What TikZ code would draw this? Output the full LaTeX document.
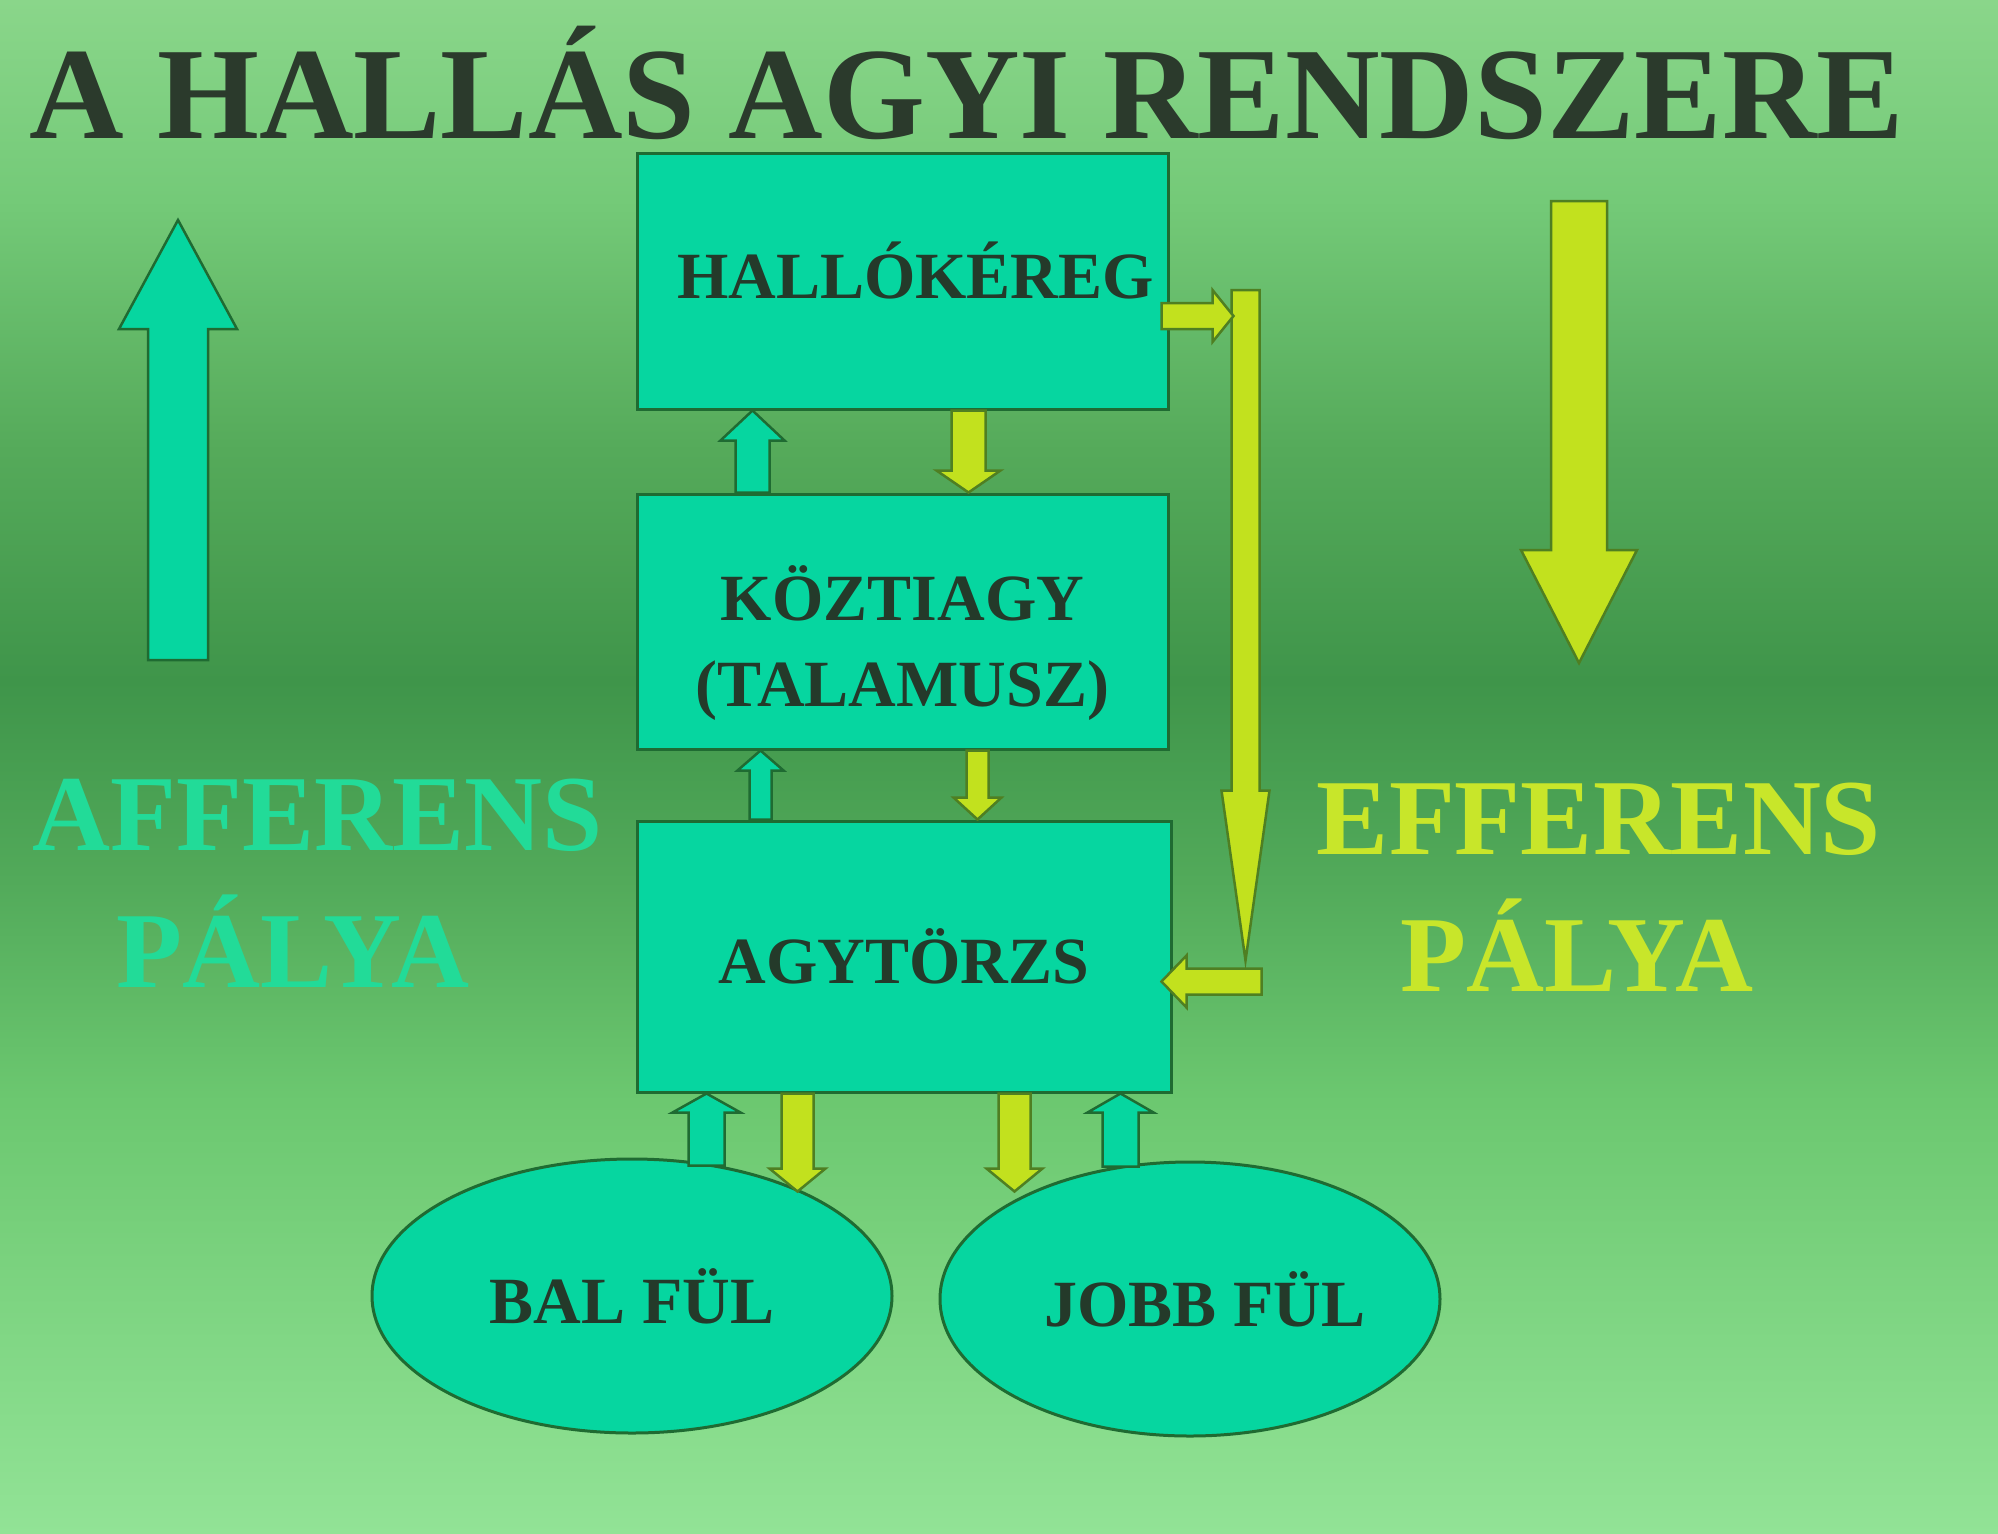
\documentclass[tikz,border=0pt]{standalone}
\usepackage{fontspec}
\setmainfont{Liberation Serif}
\usetikzlibrary{calc,shapes.geometric}

\definecolor{bgT}{HTML}{8AD68A}
\definecolor{bgA}{HTML}{74CA78}
\definecolor{bgB}{HTML}{55AA5A}
\definecolor{bgC}{HTML}{3F954A}
\definecolor{bgD}{HTML}{52AA5A}
\definecolor{bgE}{HTML}{6CC870}
\definecolor{bgBot}{HTML}{92E396}
\definecolor{boxfill}{HTML}{06D6A0}
\definecolor{boxline}{HTML}{1F6B32}
\definecolor{txt}{HTML}{243A2A}
\definecolor{yel}{HTML}{C2E11E}
\definecolor{yelline}{HTML}{4F7F22}
\definecolor{afftxt}{HTML}{22DB98}
\definecolor{efftxt}{HTML}{C8E62A}
\definecolor{titletxt}{HTML}{2B3A2C}

\pgfdeclareverticalshading{bgshade}{100bp}{color(0bp)=(bgBot); color(25bp)=(bgBot); color(39.1bp)=(bgE); color(46.3bp)=(bgD); color(52.8bp)=(bgC); color(60.3bp)=(bgB); color(68.5bp)=(bgA); color(75bp)=(bgT); color(100bp)=(bgT)}

\newcommand\boxfont{\fontsize{66}{86}\selectfont\bfseries}
\newcommand\sidefont{\fontsize{108}{137}\selectfont\bfseries}
\newcommand\titlefont{\fontsize{131}{131}\selectfont\bfseries}
\newcommand\shifttext[3]{\raisebox{#2}[\height][\depth]{\kern#1#3}}

% block arrow: #1 style, #2 from, #3 to, #4 shaft half width, #5 head half width, #6 head length
\newcommand\barrow[6]{%
  \path[#1] let \p1=($(#3)-(#2)$), \n1={veclen(\x1,\y1)}, \n2={atan2(\y1,\x1)} in
    [shift={(#2)}, rotate=\n2]
    (0,#4) -- (\n1-#6,#4) -- (\n1-#6,#5) -- (\n1,0) -- (\n1-#6,-#5) -- (\n1-#6,-#4) -- (0,-#4) -- cycle;}

\begin{document}
\begin{tikzpicture}[x=1pt,y=-1pt,
  box/.style={draw=boxline, line width=3pt, fill=boxfill, text=txt, font=\boxfont, align=center, inner sep=0pt},
  ear/.style={ellipse, draw=boxline, line width=3pt, fill=boxfill, text=txt, font=\boxfont, inner sep=0pt},
  tealarr/.style={fill=boxfill, draw=boxline, line width=2.5pt, line join=miter},
  yelarr/.style={fill=yel, draw=yelline, line width=2.5pt, line join=miter},
  sidetxt/.style={font=\sidefont, anchor=base, inner sep=0pt},
  titlenode/.style={font=\titlefont, anchor=base, inner sep=0pt}]

\useasboundingbox (0,0) rectangle (1998,1534);
\shade[shading=bgshade] (0,0) rectangle (1998,1534);

% title
\node[titlenode, text=titletxt] (title) at (967,138) {A HALLÁS AGYI RENDSZERE};

% big arrows
\coordinate (lu0) at (178,660);
\coordinate (lu1) at (178,220);
\barrow{tealarr}{lu0}{lu1}{30}{59}{109}
\coordinate (rd0) at (1579,201);
\coordinate (rd1) at (1579,663);
\barrow{yelarr}{rd0}{rd1}{28}{58}{113}

% side texts
\node[sidetxt, text=afftxt] (aff1) at (318,850) {AFFERENS};
\node[sidetxt, text=afftxt] (aff2) at (293,987) {PÁLYA};
\node[sidetxt, text=efftxt] (eff1) at (1599,854) {EFFERENS};
\node[sidetxt, text=efftxt] (eff2) at (1577,991) {PÁLYA};

% boxes
\node[box, minimum width=531pt, minimum height=256pt] (b1) at (902.5,281) {\shifttext{26pt}{10pt}{HALLÓKÉREG}};
\node[box, minimum width=531pt, minimum height=255pt] (b2) at (902.5,621.5) {\shifttext{0pt}{-25pt}{\begin{tabular}{@{}c@{}}KÖZTIAGY\\(TALAMUSZ)\end{tabular}}};
\node[box, minimum width=534pt, minimum height=271pt] (b3) at (904,956.5) {AGYTÖRZS};

% ears
\node[ear, minimum width=520pt, minimum height=274pt] (e1) at (632,1296) {BAL FÜL};
\node[ear, minimum width=500pt, minimum height=274pt] (e2) at (1190,1299) {\shifttext{30pt}{0pt}{JOBB FÜL}};

% arrows between boxes
\coordinate (a1s) at ($(b2.north west)+(117,0)$);
\coordinate (a1e) at ($(b1.south west)+(117,0)$);
\barrow{tealarr}{a1s}{a1e}{17}{32}{30}
\coordinate (a2s) at ($(b1.south west)+(333,0)$);
\coordinate (a2e) at ($(b2.north west)+(333,0)$);
\barrow{yelarr}{a2s}{a2e}{17}{32}{22}
\coordinate (a3s) at ($(b3.north west)+(125,0)$);
\coordinate (a3e) at ($(b2.south west)+(125,0)$);
\barrow{tealarr}{a3s}{a3e}{11}{23}{20}
\coordinate (a4s) at ($(b2.south west)+(342,0)$);
\coordinate (a4e) at ($(b3.north west)+(342,0)$);
\barrow{yelarr}{a4s}{a4e}{11}{24}{22}

% arrows between brainstem and ears
\coordinate (a5e) at ($(b3.south west)+(71,0)$);
\coordinate (a5s) at ($(a5e)+(0,72)$);
\barrow{tealarr}{a5s}{a5e}{18}{34}{19}
\coordinate (a6s) at ($(b3.south west)+(162,0)$);
\coordinate (a6e) at ($(a6s)+(0,98)$);
\barrow{yelarr}{a6s}{a6e}{16}{28}{23}
\coordinate (a7s) at ($(b3.south west)+(379,0)$);
\coordinate (a7e) at ($(a7s)+(0,98)$);
\barrow{yelarr}{a7s}{a7e}{16}{28}{23}
\coordinate (a8e) at ($(b3.south west)+(485,0)$);
\coordinate (a8s) at ($(a8e)+(0,73)$);
\barrow{tealarr}{a8s}{a8e}{18}{33}{19}

% feedback loop
\coordinate (f2s) at ($(b1.east)+(76,9)$);
\coordinate (f2e) at ($(f2s |- b3.east)+(0,4)$);
\barrow{yelarr}{f2s}{f2e}{14}{24}{170}
\coordinate (f1s) at ($(b1.east)+(-8,35)$);
\coordinate (f1e) at ($(b1.east)+(64,35)$);
\barrow{yelarr}{f1s}{f1e}{13}{26}{21}
\coordinate (f3s) at ($(b3.east)+(89,25)$);
\coordinate (f3e) at ($(b3.east)+(-11,25)$);
\barrow{yelarr}{f3s}{f3e}{13}{26}{25}

\end{tikzpicture}
\end{document}
